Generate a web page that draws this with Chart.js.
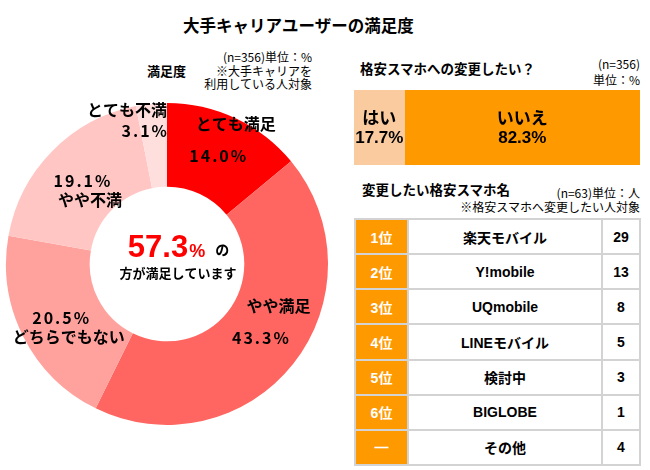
<!DOCTYPE html>
<html lang="ja">
<head>
<meta charset="utf-8">
<script src="https://cdn.jsdelivr.net/npm/chart.js@4"></script>
<style>
  body { margin: 0; background: #fff; font-family: "Noto Sans CJK JP", "Liberation Sans", sans-serif; color: #000; }
  #wrap { position: relative; width: 650px; height: 470px; overflow: hidden; }
  .t { position: absolute; white-space: nowrap; }
  .note { font-size: 12px; line-height: 13.5px; text-align: right; }
  #rankTable { position: absolute; left: 354px; top: 218px; width: 287px; height: 248px;
    border-collapse: collapse; font-family: "Liberation Sans", "Noto Sans CJK JP", sans-serif; font-weight: bold; font-size: 14px; }
  #rankTable td { border: 2px solid #d3d3d3; text-align: center; padding: 0; }
  #rankTable td.rank { background: #ff9900; color: #fff; width: 51px; }
  #rankTable td.cnt { width: 36px; }
</style>
</head>
<body>
<div id="wrap">
  <div class="t" style="left:183px;top:13px;font-size:16.5px;font-weight:bold;">大手キャリアユーザーの満足度</div>

  <div class="t" style="left:147px;top:61px;font-size:13px;font-weight:bold;">満足度</div>
  <div class="t note" style="right:338px;top:50px;">(n=356)単位：%<br>※大手キャリアを<br>利用している人対象</div>
  <canvas id="satChart" width="330" height="330" style="position:absolute;left:2px;top:99px;"></canvas>

  <div class="t" style="left:360px;top:58px;font-size:13.5px;font-weight:bold;">格安スマホへの変更したい？</div>
  <div class="t note" style="right:10px;top:56px;line-height:16px;">(n=356)<br>単位：%</div>
  <canvas id="switchChart" width="286" height="75" style="position:absolute;left:354px;top:90px;"></canvas>

  <div class="t" style="left:362px;top:179px;font-size:13.5px;font-weight:bold;">変更したい格安スマホ名</div>
  <div class="t note" style="right:10px;top:186px;">(n=63)単位：人<br>※格安スマホへ変更したい人対象</div>
  <table id="rankTable"></table>
</div>

<script>
// Satisfaction doughnut (clockwise from top)
const satLabels = ['とても満足', 'やや満足', 'どちらでもない', 'やや不満', 'とても不満'];
const satValues = [14.0, 43.3, 20.5, 19.1, 3.1];
const satColors = ['#ff0000', '#ff6661', '#ffa29e', '#ffc6c3', '#ffdfde'];

// Switch intention bar
const switchLabels = ['はい', 'いいえ'];
const switchValues = [17.7, 82.3];
const switchColors = ['#f9cb9f', '#ff9900'];

// Ranking table
const ranks = ['1位', '2位', '3位', '4位', '5位', '6位', '—'];
const carriers = ['楽天モバイル', 'Y!mobile', 'UQmobile', 'LINEモバイル', '検討中', 'BIGLOBE', 'その他'];
const counts = [29, 13, 8, 5, 3, 1, 4];

const JP = '"Noto Sans CJK JP", sans-serif';
const LAT = '"Liberation Sans", "Noto Sans CJK JP", sans-serif';

// slice names + percentages
const sliceLabels = {
    id: 'sliceLabels',
    afterDatasetsDraw(chart) {
        const ctx = chart.ctx;
        const meta = chart.getDatasetMeta(0);
        ctx.save();
        ctx.fillStyle = '#000';
        ctx.textBaseline = 'middle';
        const pct = (txt, x, y) => {
            ctx.font = 'bold 16px ' + JP;
            ctx.letterSpacing = '2px';
            ctx.fillText(txt, x, y);
            ctx.letterSpacing = '0px';
        };
        meta.data.forEach((arc, i) => {
            const val = satValues[i].toFixed(1) + '%';
            const name = satLabels[i];
            const mid = (arc.startAngle + arc.endAngle) / 2;
            if (satValues[i] < 5) {
                // thin slice: stack near the rim, right-aligned to the slice edge
                const y = arc.y - (arc.outerRadius - 28);
                ctx.textAlign = 'right';
                ctx.font = 'bold 16px ' + JP;
                ctx.fillText(name, arc.x, y - 21);
                pct(val, arc.x + 2, y);
                return;
            }
            const p = arc.tooltipPosition();
            const right = Math.cos(mid) > 0;
            ctx.textAlign = 'center';
            pct(val, p.x + 1, p.y);
            ctx.font = 'bold 16px ' + JP;
            if (right) ctx.fillText(name, p.x + 18, p.y - 32);
            else ctx.fillText(name, p.x + 8, p.y + 19);
        });
        ctx.restore();
    }
};

const centerText = {
    id: 'centerText',
    afterDraw(chart) {
        const ctx = chart.ctx;
        const arc = chart.getDatasetMeta(0).data[0];
        const cx = arc.x + 11, base = arc.y - 7;
        const big = (satValues[0] + satValues[1]).toFixed(1);
        ctx.save();
        ctx.textBaseline = 'alphabetic';
        ctx.textAlign = 'left';
        ctx.font = 'bold 31px ' + LAT;
        const w1 = ctx.measureText(big).width;
        ctx.font = 'bold 18px ' + LAT;
        const w2 = ctx.measureText('%').width;
        ctx.font = 'bold 14px ' + JP;
        const w3 = ctx.measureText('の').width;
        let x = cx - (w1 + w2 + 10 + w3) / 2;
        ctx.fillStyle = '#ff0000';
        ctx.font = 'bold 31px ' + LAT;
        ctx.fillText(big, x, base);
        x += w1 + 1;
        ctx.font = 'bold 18px ' + LAT;
        ctx.fillText('%', x, base);
        x += w2 + 10;
        ctx.fillStyle = '#000';
        ctx.font = 'bold 14px ' + JP;
        ctx.fillText('の', x, base - 2);
        ctx.textAlign = 'center';
        ctx.textBaseline = 'middle';
        ctx.font = 'bold 13px ' + JP;
        ctx.fillText('方が満足しています', cx, arc.y + 9);
        ctx.restore();
    }
};

new Chart(document.getElementById('satChart'), {
    type: 'doughnut',
    data: {
        labels: satLabels,
        datasets: [{
            data: satValues,
            backgroundColor: satColors,
            borderWidth: 0
        }]
    },
    options: {
        responsive: false,
        animation: false,
        cutout: '48%',
        layout: { padding: 4 },
        plugins: { legend: { display: false }, tooltip: { enabled: false } }
    },
    plugins: [sliceLabels, centerText]
});

// labels inside the stacked bar
const barLabels = {
    id: 'barLabels',
    afterDatasetsDraw(chart) {
        const ctx = chart.ctx;
        ctx.save();
        ctx.fillStyle = '#000';
        ctx.textAlign = 'center';
        ctx.textBaseline = 'middle';
        chart.data.datasets.forEach((ds, i) => {
            const bar = chart.getDatasetMeta(i).data[0];
            const x = (bar.base + bar.x) / 2;
            ctx.font = 'bold 17px ' + JP;
            ctx.fillText(ds.label, x, bar.y - 10);
            ctx.font = 'bold 17px ' + LAT;
            ctx.fillText(ds.data[0].toFixed(1) + '%', x, bar.y + 11);
        });
        ctx.restore();
    }
};

new Chart(document.getElementById('switchChart'), {
    type: 'bar',
    data: {
        labels: [''],
        datasets: switchLabels.map((l, i) => ({
            label: l,
            data: [switchValues[i]],
            backgroundColor: switchColors[i],
            borderWidth: 0,
            barPercentage: 1,
            categoryPercentage: 1
        }))
    },
    options: {
        indexAxis: 'y',
        responsive: false,
        animation: false,
        layout: { padding: 0 },
        scales: {
            x: { stacked: true, min: 0, max: 100, display: false },
            y: { stacked: true, display: false }
        },
        plugins: { legend: { display: false }, tooltip: { enabled: false } }
    },
    plugins: [barLabels]
});

// ranking table rows
const table = document.getElementById('rankTable');
ranks.forEach((r, i) => {
    const tr = document.createElement('tr');
    tr.innerHTML = '<td class="rank">' + r + '</td><td>' + carriers[i] + '</td><td class="cnt">' + counts[i] + '</td>';
    table.appendChild(tr);
});
</script>
</body>
</html>
